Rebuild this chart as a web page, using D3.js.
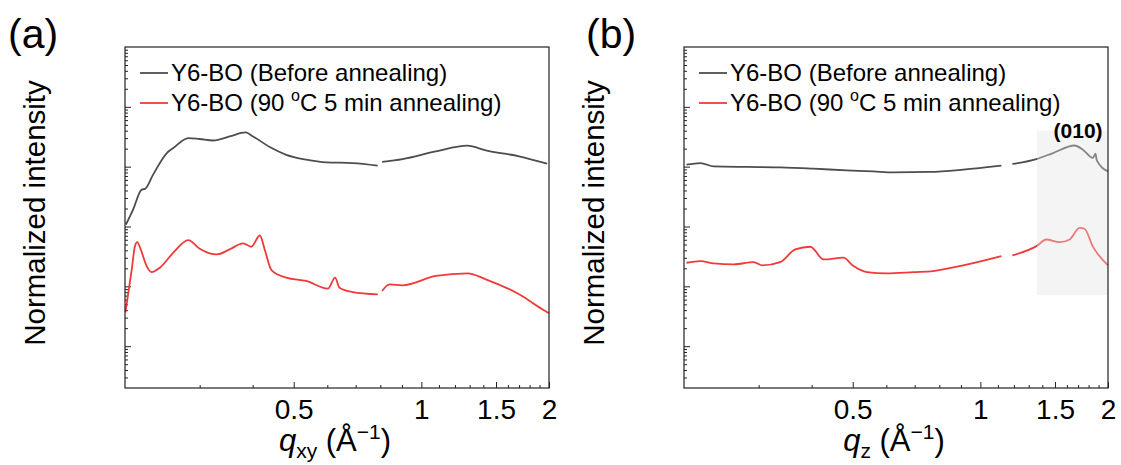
<!DOCTYPE html>
<html lang="en">
<head>
<meta charset="UTF-8">
<title>GIWAXS line cuts</title>
<script src="https://d3js.org/d3.v7.min.js"></script>
<style>
  body { margin: 0; background: #fff; }
  svg text { font-family: "Liberation Sans", Arial, sans-serif; fill: #000; }
</style>
</head>
<body>
<div id="chart"></div>
<script>
// ---- data (q in 1/Å, intensity in arbitrary log units) ----
// null marks the detector gap
var qA_before = [0.201, 0.209, 0.219, 0.223, 0.233, 0.251, 0.260, 0.282, 0.300, 0.323, 0.353, 0.385, 0.401, 0.439, 0.480, 0.535, 0.597, 0.689, 0.789,
                 0.800,
                 0.808, 0.903, 1.082, 1.285, 1.419, 1.70, 1.98];
var iA_before = [1.08e-3, 1.92e-3, 4.14e-3, 4.25e-3, 7.36e-3, 1.69e-2, 2.05e-2, 3.01e-2, 2.90e-2, 2.74e-2, 3.20e-2, 3.73e-2, 3.20e-2, 2.13e-2, 1.58e-2, 1.31e-2, 1.18e-2, 1.15e-2, 1.04e-2,
                 null,
                 1.20e-2, 1.34e-2, 1.80e-2, 2.24e-2, 1.87e-2, 1.49e-2, 1.12e-2];

var qA_after = [0.2005, 0.2075, 0.2111, 0.2138, 0.2178, 0.2249, 0.2311, 0.2417, 0.260, 0.282, 0.300, 0.329, 0.353, 0.380, 0.397, 0.416, 0.427, 0.443, 0.480, 0.535, 0.602, 0.626, 0.641, 0.689, 0.789,
                0.800,
                0.808, 0.841, 0.903, 1.082, 1.285, 1.419, 1.70, 1.929, 2.0];
var iA_after = [3.69e-5, 1.92e-4, 4.70e-4, 5.47e-4, 4.14e-4, 2.18e-4, 1.73e-4, 2.05e-4, 3.65e-4, 5.91e-4, 4.25e-4, 3.41e-4, 4.14e-4, 5.21e-4, 4.59e-4, 7.08e-4, 4.14e-4, 1.87e-4, 1.40e-4, 1.23e-4, 9.16e-5, 1.40e-4, 9.51e-5, 8.04e-5, 7.36e-5,
                null,
                8.35e-5, 1.08e-4, 1.04e-4, 1.49e-4, 1.65e-4, 1.31e-4, 7.36e-5, 4.14e-5, 3.55e-5];

var qB_before = [0.2027, 0.2187, 0.235, 0.2816, 0.337, 0.404, 0.484, 0.559, 0.623, 0.760, 0.911, 1.121,
                 1.15,
                 1.190, 1.356, 1.484, 1.668, 1.745, 1.842, 1.869, 1.882, 2.0];
var iB_before = [1.08e-2, 1.15e-2, 1.01e-2, 9.89e-3, 9.73e-3, 9.26e-3, 8.68e-3, 8.35e-3, 8.04e-3, 8.16e-3, 8.91e-3, 1.04e-2,
                 null,
                 1.11e-2, 1.34e-2, 1.69e-2, 2.26e-2, 1.92e-2, 1.40e-2, 1.65e-2, 1.27e-2, 8.35e-3];

var qB_after = [0.2027, 0.2187, 0.235, 0.262, 0.292, 0.306, 0.337, 0.366, 0.397, 0.427, 0.475, 0.502, 0.540, 0.601, 0.695, 0.774, 0.911, 1.121,
                1.15,
                1.190, 1.356, 1.431, 1.538, 1.624, 1.714, 1.761, 1.84, 2.0];
var iB_after = [2.48e-4, 2.64e-4, 2.42e-4, 2.33e-4, 2.54e-4, 2.24e-4, 2.54e-4, 4.14e-4, 4.59e-4, 2.82e-4, 3.01e-4, 2.18e-4, 1.73e-4, 1.65e-4, 1.73e-4, 1.80e-4, 2.24e-4, 3.20e-4,
                null,
                3.29e-4, 4.70e-4, 6.07e-4, 5.47e-4, 6.07e-4, 9.51e-4, 9.16e-4, 4.70e-4, 2.24e-4];

var seriesNames = ["Y6-BO (Before annealing)", "Y6-BO (90 \u00B0C 5 min annealing)"];
var seriesColors = ["#4d4d4d", "#f03a3a"];

var xMajor = [0.5, 1, 1.5, 2];
var xMinor = [0.3, 0.4, 0.6, 0.7, 0.8, 0.9, 1.1, 1.2, 1.3, 1.4, 1.6, 1.7, 1.8, 1.9];
var xLabels = ["0.5", "1", "1.5", "2"];

// (010) highlight in panel b
var shadeQ = [1.36, 2];
var shadeI = [7.1e-5, 4.0e-2];

// ---- layout ----
var W = 1121, H = 465;
var svg = d3.select("#chart").append("svg").attr("width", W).attr("height", H);

var yDomain = [2e-6, 1];
var yMajor = [1e-1, 1e-2, 1e-3, 1e-4, 1e-5];
var yMinor = [];
for (var e = -6; e < 0; e++) {
  for (var k = 2; k <= 9; k++) {
    var v = k * Math.pow(10, e);
    if (v > yDomain[0] && v < yDomain[1]) yMinor.push(v);
  }
}

function pairs(qs, is) {
  return qs.map(function(q, i) { return {q: q, v: is[i]}; });
}

function drawPanel(opt) {
  var x = d3.scaleLog().domain([0.2, 2]).range([opt.left, opt.left + 424]);
  var y = d3.scaleLog().domain(yDomain).range([388, 47]);
  var g = svg.append("g");

  // ticks (inward)
  g.append("g").attr("transform", "translate(0,388)")
    .call(d3.axisBottom(x).tickValues(xMinor).tickSize(-3).tickFormat(""))
    .call(function(s) { s.select(".domain").remove(); });
  g.append("g").attr("transform", "translate(0,388)")
    .call(d3.axisBottom(x).tickValues(xMajor).tickSize(-6).tickPadding(8)
      .tickFormat(function(d, i) { return xLabels[i]; }))
    .call(function(s) {
      s.select(".domain").remove();
      s.selectAll("text").attr("font-size", 28).attr("dy", "0.82em");
    });
  g.append("g").attr("transform", "translate(" + opt.left + ",0)")
    .call(d3.axisLeft(y).tickValues(yMinor).tickSize(-3).tickFormat(""))
    .call(function(s) { s.select(".domain").remove(); });
  g.append("g").attr("transform", "translate(" + opt.left + ",0)")
    .call(d3.axisLeft(y).tickValues(yMajor).tickSize(-6).tickFormat(""))
    .call(function(s) { s.select(".domain").remove(); });
  g.selectAll(".tick line").attr("stroke", "#222").attr("stroke-width", 1);

  var line = d3.line()
    .defined(function(d) { return d.v !== null; })
    .curve(d3.curveMonotoneX)
    .x(function(d) { return x(d.q); })
    .y(function(d) { return y(d.v); });

  opt.series.forEach(function(s, i) {
    g.append("path")
      .datum(s)
      .attr("fill", "none")
      .attr("stroke", seriesColors[i])
      .attr("stroke-width", 1.8)
      .attr("stroke-linejoin", "round")
      .attr("d", line);
  });

  if (opt.shade) {
    g.append("rect")
      .attr("x", x(shadeQ[0])).attr("y", y(shadeI[1]))
      .attr("width", x(shadeQ[1]) - x(shadeQ[0]))
      .attr("height", y(shadeI[0]) - y(shadeI[1]))
      .attr("fill", "#e2e2e2").attr("opacity", 0.38);
    g.append("text")
      .attr("x", x(1.7)).attr("y", y(shadeI[1]) + 7)
      .attr("text-anchor", "middle")
      .attr("font-size", 21).attr("font-weight", "bold")
      .text("(010)");
  }

  // frame
  g.append("rect")
    .attr("x", opt.left).attr("y", 47)
    .attr("width", 424).attr("height", 341)
    .attr("fill", "none").attr("stroke", "#222").attr("stroke-width", 1.2);

  // legend
  seriesNames.forEach(function(n, i) {
    var ly = 73 + i * 30;
    g.append("line")
      .attr("x1", opt.left + 15).attr("x2", opt.left + 43)
      .attr("y1", ly).attr("y2", ly)
      .attr("stroke", seriesColors[i]).attr("stroke-width", 1.8);
    var t = g.append("text")
      .attr("x", opt.left + 46).attr("y", ly + 8)
      .attr("font-size", 24);
    if (i === 0) {
      t.text(n);
    } else {
      t.append("tspan").text("Y6-BO (90 ");
      t.append("tspan").attr("font-size", 16).attr("dy", -10).text("o");
      t.append("tspan").attr("dy", 10).text("C 5 min annealing)");
    }
  });

  // axis titles
  g.append("text")
    .attr("transform", "translate(" + (opt.left - 80) + ",213) rotate(-90)")
    .attr("text-anchor", "middle")
    .attr("font-size", 29.5)
    .text("Normalized intensity");

  var xt = g.append("text")
    .attr("x", opt.left + 210).attr("y", 451)
    .attr("text-anchor", "middle")
    .attr("font-size", 31);
  xt.append("tspan").attr("font-style", "italic").text("q");
  xt.append("tspan").attr("font-size", 21).attr("dy", 7).text(opt.sub);
  xt.append("tspan").attr("dy", -7).text(" (\u00C5");
  xt.append("tspan").attr("font-size", 21).attr("dy", -12).text("\u22121");
  xt.append("tspan").attr("dy", 12).text(")");

  svg.append("text")
    .attr("x", opt.tagX).attr("y", 48)
    .attr("font-size", 41)
    .text(opt.tag);
}

drawPanel({
  left: 125, tag: "(a)", tagX: 8, sub: "xy", shade: false,
  series: [pairs(qA_before, iA_before), pairs(qA_after, iA_after)]
});
drawPanel({
  left: 684, tag: "(b)", tagX: 586, sub: "z", shade: true,
  series: [pairs(qB_before, iB_before), pairs(qB_after, iB_after)]
});
</script>
</body>
</html>
